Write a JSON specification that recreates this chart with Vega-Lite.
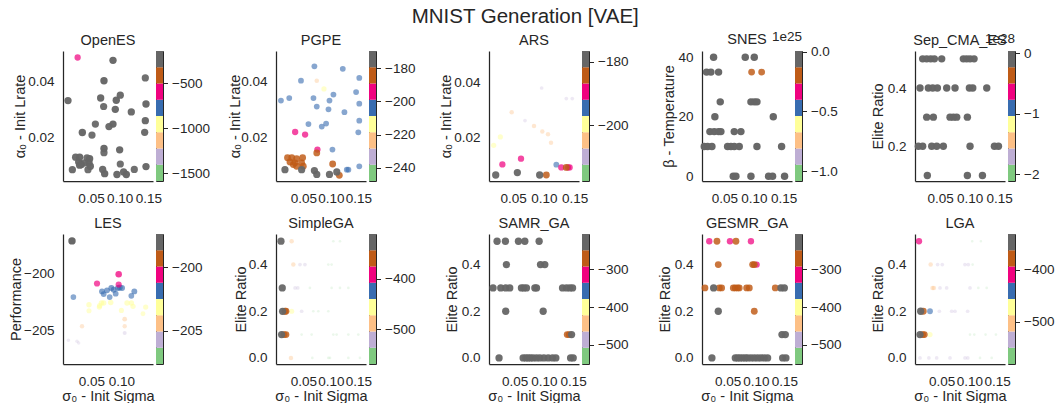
{
"$schema": "https://vega.github.io/schema/vega-lite/v6.json",
"padding": {"left": 8, "top": 7, "right": 0, "bottom": 0},
"title": {"text": "MNIST Generation [VAE]", "fontSize": 20.5, "offset": -14, "anchor": "middle", "baseline": "alphabetic", "dx": -6},
"resolve": {"scale": {"color": "independent", "size": "independent", "opacity": "independent", "x": "independent", "y": "independent"}},
"datasets": {
"pts": [
{"p":"OpenES","s":0.0267,"y":0.0484,"v":-600},
{"p":"OpenES","s":0.0883,"y":0.0474,"v":-200},
{"p":"OpenES","s":0.0099,"y":0.0332,"v":-220},
{"p":"OpenES","s":0.0726,"y":0.0402,"v":-180},
{"p":"OpenES","s":0.1446,"y":0.0412,"v":-250},
{"p":"OpenES","s":0.0668,"y":0.0341,"v":-200},
{"p":"OpenES","s":0.1010,"y":0.0351,"v":-220},
{"p":"OpenES","s":0.0940,"y":0.0333,"v":-180},
{"p":"OpenES","s":0.0720,"y":0.0311,"v":-250},
{"p":"OpenES","s":0.0923,"y":0.0301,"v":-200},
{"p":"OpenES","s":0.1202,"y":0.0292,"v":-220},
{"p":"OpenES","s":0.1458,"y":0.0320,"v":-180},
{"p":"OpenES","s":0.0576,"y":0.0249,"v":-250},
{"p":"OpenES","s":0.0883,"y":0.0249,"v":-200},
{"p":"OpenES","s":0.0813,"y":0.0240,"v":-220},
{"p":"OpenES","s":0.0349,"y":0.0219,"v":-180},
{"p":"OpenES","s":0.0517,"y":0.0210,"v":-250},
{"p":"OpenES","s":0.1446,"y":0.0261,"v":-200},
{"p":"OpenES","s":0.1435,"y":0.0220,"v":-220},
{"p":"OpenES","s":0.0726,"y":0.0163,"v":-180},
{"p":"OpenES","s":0.0726,"y":0.0148,"v":-250},
{"p":"OpenES","s":0.0999,"y":0.0158,"v":-200},
{"p":"OpenES","s":0.0232,"y":0.0132,"v":-220},
{"p":"OpenES","s":0.0302,"y":0.0132,"v":-180},
{"p":"OpenES","s":0.0430,"y":0.0130,"v":-250},
{"p":"OpenES","s":0.0476,"y":0.0127,"v":-200},
{"p":"OpenES","s":0.0285,"y":0.0115,"v":-220},
{"p":"OpenES","s":0.0331,"y":0.0106,"v":-180},
{"p":"OpenES","s":0.0389,"y":0.0112,"v":-250},
{"p":"OpenES","s":0.0465,"y":0.0112,"v":-200},
{"p":"OpenES","s":0.0175,"y":0.0088,"v":-220},
{"p":"OpenES","s":0.0302,"y":0.0104,"v":-180},
{"p":"OpenES","s":0.0447,"y":0.0088,"v":-250},
{"p":"OpenES","s":0.0488,"y":0.0100,"v":-200},
{"p":"OpenES","s":0.0703,"y":0.0089,"v":-220},
{"p":"OpenES","s":0.0738,"y":0.0074,"v":-180},
{"p":"OpenES","s":0.1010,"y":0.0108,"v":-250},
{"p":"OpenES","s":0.0952,"y":0.0071,"v":-200},
{"p":"OpenES","s":0.1068,"y":0.0080,"v":-220},
{"p":"OpenES","s":0.1115,"y":0.0071,"v":-180},
{"p":"OpenES","s":0.1254,"y":0.0089,"v":-250},
{"p":"OpenES","s":0.1458,"y":0.0099,"v":-200},

{"p":"PGPE","s":0.0745,"y":0.0402,"v":-223},
{"p":"PGPE","s":0.0876,"y":0.0373,"v":-213},
{"p":"PGPE","s":0.0702,"y":0.0453,"v":-204},
{"p":"PGPE","s":0.1218,"y":0.0444,"v":-204},
{"p":"PGPE","s":0.0458,"y":0.0402,"v":-204},
{"p":"PGPE","s":0.1518,"y":0.0412,"v":-204},
{"p":"PGPE","s":0.0094,"y":0.0332,"v":-204},
{"p":"PGPE","s":0.0245,"y":0.0341,"v":-204},
{"p":"PGPE","s":0.0685,"y":0.0341,"v":-204},
{"p":"PGPE","s":0.0745,"y":0.0311,"v":-204},
{"p":"PGPE","s":0.0976,"y":0.0332,"v":-204},
{"p":"PGPE","s":0.1048,"y":0.0353,"v":-204},
{"p":"PGPE","s":0.0958,"y":0.0301,"v":-204},
{"p":"PGPE","s":0.1248,"y":0.0291,"v":-204},
{"p":"PGPE","s":0.1460,"y":0.0362,"v":-204},
{"p":"PGPE","s":0.1518,"y":0.0321,"v":-204},
{"p":"PGPE","s":0.1518,"y":0.0261,"v":-204},
{"p":"PGPE","s":0.1500,"y":0.0220,"v":-204},
{"p":"PGPE","s":0.0594,"y":0.0249,"v":-204},
{"p":"PGPE","s":0.0836,"y":0.0240,"v":-204},
{"p":"PGPE","s":0.0915,"y":0.0251,"v":-204},
{"p":"PGPE","s":0.1030,"y":0.0159,"v":-204},
{"p":"PGPE","s":0.1291,"y":0.0088,"v":-204},
{"p":"PGPE","s":0.1320,"y":0.0088,"v":-204},
{"p":"PGPE","s":0.1518,"y":0.0100,"v":-204},
{"p":"PGPE","s":0.0352,"y":0.0221,"v":-194},
{"p":"PGPE","s":0.0533,"y":0.0212,"v":-194},
{"p":"PGPE","s":0.0757,"y":0.0159,"v":-194},
{"p":"PGPE","s":0.0745,"y":0.0147,"v":-184},
{"p":"PGPE","s":0.0213,"y":0.0130,"v":-184},
{"p":"PGPE","s":0.0291,"y":0.0130,"v":-184},
{"p":"PGPE","s":0.0379,"y":0.0127,"v":-184},
{"p":"PGPE","s":0.0488,"y":0.0130,"v":-184},
{"p":"PGPE","s":0.0258,"y":0.0115,"v":-184},
{"p":"PGPE","s":0.0349,"y":0.0112,"v":-184},
{"p":"PGPE","s":0.0470,"y":0.0112,"v":-184},
{"p":"PGPE","s":0.0319,"y":0.0106,"v":-184},
{"p":"PGPE","s":0.0379,"y":0.0100,"v":-184},
{"p":"PGPE","s":0.0500,"y":0.0100,"v":-184},
{"p":"PGPE","s":0.1034,"y":0.0108,"v":-184},
{"p":"PGPE","s":0.1155,"y":0.0068,"v":-184},
{"p":"PGPE","s":0.0167,"y":0.0088,"v":-175},
{"p":"PGPE","s":0.0470,"y":0.0088,"v":-175},
{"p":"PGPE","s":0.0702,"y":0.0085,"v":-175},
{"p":"PGPE","s":0.0745,"y":0.0071,"v":-175},
{"p":"PGPE","s":0.0976,"y":0.0071,"v":-175},
{"p":"PGPE","s":0.1109,"y":0.0080,"v":-175},

{"p":"ARS","s":0.0694,"y":0.0261,"v":-210},
{"p":"ARS","s":0.0964,"y":0.0381,"v":-210},
{"p":"ARS","s":0.1364,"y":0.0342,"v":-210},
{"p":"ARS","s":0.1461,"y":0.0342,"v":-210},
{"p":"ARS","s":0.0478,"y":0.0292,"v":-205},
{"p":"ARS","s":0.0840,"y":0.0241,"v":-205},
{"p":"ARS","s":0.0975,"y":0.0221,"v":-205},
{"p":"ARS","s":0.1067,"y":0.0211,"v":-205},
{"p":"ARS","s":0.1116,"y":0.0180,"v":-205},
{"p":"ARS","s":0.0186,"y":0.0170,"v":-199.5},
{"p":"ARS","s":0.0294,"y":0.0201,"v":-199.5},
{"p":"ARS","s":0.1202,"y":0.0099,"v":-194.5},
{"p":"ARS","s":0.0327,"y":0.0100,"v":-189.5},
{"p":"ARS","s":0.0629,"y":0.0121,"v":-189.5},
{"p":"ARS","s":0.1283,"y":0.0089,"v":-189.5},
{"p":"ARS","s":0.1391,"y":0.0089,"v":-189.5},
{"p":"ARS","s":0.1418,"y":0.0089,"v":-189.5},
{"p":"ARS","s":0.1040,"y":0.0061,"v":-184},
{"p":"ARS","s":0.1364,"y":0.0089,"v":-184},
{"p":"ARS","s":0.0219,"y":0.0061,"v":-179},
{"p":"ARS","s":0.0570,"y":0.0070,"v":-179},
{"p":"ARS","s":0.0932,"y":0.0061,"v":-179},

{"p":"SNES","s":0.0960,"y":35,"v":-0.2},
{"p":"SNES","s":0.1129,"y":35,"v":-0.2},
{"p":"SNES","s":0.0320,"y":40,"v":-0.01},
{"p":"SNES","s":0.0853,"y":40,"v":-0.01},
{"p":"SNES","s":0.1005,"y":40,"v":-0.01},
{"p":"SNES","s":0.0202,"y":35,"v":-0.01},
{"p":"SNES","s":0.0275,"y":35,"v":-0.01},
{"p":"SNES","s":0.0404,"y":35,"v":-0.01},
{"p":"SNES","s":0.0432,"y":25,"v":-0.01},
{"p":"SNES","s":0.0949,"y":25,"v":-0.01},
{"p":"SNES","s":0.1005,"y":25,"v":-0.01},
{"p":"SNES","s":0.1050,"y":25,"v":-0.01},
{"p":"SNES","s":0.0342,"y":20,"v":-0.01},
{"p":"SNES","s":0.1325,"y":20,"v":-0.01},
{"p":"SNES","s":0.0258,"y":15,"v":-0.01},
{"p":"SNES","s":0.0331,"y":15,"v":-0.01},
{"p":"SNES","s":0.0404,"y":15,"v":-0.01},
{"p":"SNES","s":0.0443,"y":15,"v":-0.01},
{"p":"SNES","s":0.0668,"y":15,"v":-0.01},
{"p":"SNES","s":0.0780,"y":15,"v":-0.01},
{"p":"SNES","s":0.0163,"y":10,"v":-0.01},
{"p":"SNES","s":0.0219,"y":10,"v":-0.01},
{"p":"SNES","s":0.0292,"y":10,"v":-0.01},
{"p":"SNES","s":0.0556,"y":10,"v":-0.01},
{"p":"SNES","s":0.0612,"y":10,"v":-0.01},
{"p":"SNES","s":0.0668,"y":10,"v":-0.01},
{"p":"SNES","s":0.0752,"y":10,"v":-0.01},
{"p":"SNES","s":0.1050,"y":10,"v":-0.01},
{"p":"SNES","s":0.1465,"y":10,"v":-0.01},
{"p":"SNES","s":0.0651,"y":0,"v":-0.01},
{"p":"SNES","s":0.0696,"y":0,"v":-0.01},
{"p":"SNES","s":0.0949,"y":0,"v":-0.01},
{"p":"SNES","s":0.1246,"y":0,"v":-0.01},
{"p":"SNES","s":0.1313,"y":0,"v":-0.01},
{"p":"SNES","s":0.1515,"y":0,"v":-0.01},

{"p":"Sep_CMA_ES","s":0.0206,"y":0.5,"v":-0.01},
{"p":"Sep_CMA_ES","s":0.0274,"y":0.5,"v":-0.01},
{"p":"Sep_CMA_ES","s":0.0342,"y":0.5,"v":-0.01},
{"p":"Sep_CMA_ES","s":0.0404,"y":0.5,"v":-0.01},
{"p":"Sep_CMA_ES","s":0.0528,"y":0.5,"v":-0.01},
{"p":"Sep_CMA_ES","s":0.0895,"y":0.5,"v":-0.01},
{"p":"Sep_CMA_ES","s":0.0951,"y":0.5,"v":-0.01},
{"p":"Sep_CMA_ES","s":0.1008,"y":0.5,"v":-0.01},
{"p":"Sep_CMA_ES","s":0.1076,"y":0.5,"v":-0.01},
{"p":"Sep_CMA_ES","s":0.0161,"y":0.4,"v":-0.01},
{"p":"Sep_CMA_ES","s":0.0302,"y":0.4,"v":-0.01},
{"p":"Sep_CMA_ES","s":0.0376,"y":0.4,"v":-0.01},
{"p":"Sep_CMA_ES","s":0.0455,"y":0.4,"v":-0.01},
{"p":"Sep_CMA_ES","s":0.0613,"y":0.4,"v":-0.01},
{"p":"Sep_CMA_ES","s":0.0754,"y":0.4,"v":-0.01},
{"p":"Sep_CMA_ES","s":0.0997,"y":0.4,"v":-0.01},
{"p":"Sep_CMA_ES","s":0.1054,"y":0.4,"v":-0.01},
{"p":"Sep_CMA_ES","s":0.1291,"y":0.4,"v":-0.01},
{"p":"Sep_CMA_ES","s":0.0274,"y":0.3,"v":-0.01},
{"p":"Sep_CMA_ES","s":0.0387,"y":0.3,"v":-0.01},
{"p":"Sep_CMA_ES","s":0.0669,"y":0.3,"v":-0.01},
{"p":"Sep_CMA_ES","s":0.0726,"y":0.3,"v":-0.01},
{"p":"Sep_CMA_ES","s":0.0782,"y":0.3,"v":-0.01},
{"p":"Sep_CMA_ES","s":0.0963,"y":0.3,"v":-0.01},
{"p":"Sep_CMA_ES","s":0.0133,"y":0.2,"v":-0.01},
{"p":"Sep_CMA_ES","s":0.0206,"y":0.2,"v":-0.01},
{"p":"Sep_CMA_ES","s":0.0359,"y":0.2,"v":-0.01},
{"p":"Sep_CMA_ES","s":0.0444,"y":0.2,"v":-0.01},
{"p":"Sep_CMA_ES","s":0.0556,"y":0.2,"v":-0.01},
{"p":"Sep_CMA_ES","s":0.1008,"y":0.2,"v":-0.01},
{"p":"Sep_CMA_ES","s":0.1421,"y":0.2,"v":-0.01},
{"p":"Sep_CMA_ES","s":0.1489,"y":0.2,"v":-0.01},
{"p":"Sep_CMA_ES","s":0.0285,"y":0.1,"v":-0.01},
{"p":"Sep_CMA_ES","s":0.0963,"y":0.1,"v":-0.01},
{"p":"Sep_CMA_ES","s":0.1218,"y":0.1,"v":-0.01},

{"p":"LES","s":0.0117,"y":-205.84,"v":-205.84},
{"p":"LES","s":0.0260,"y":-205.93,"v":-205.93},
{"p":"LES","s":0.0288,"y":-206.07,"v":-206.07},
{"p":"LES","s":0.1055,"y":-205.2,"v":-205.2},
{"p":"LES","s":0.0344,"y":-204.62,"v":-204.62},
{"p":"LES","s":0.1055,"y":-204.0,"v":-204.0},
{"p":"LES","s":0.1055,"y":-204.62,"v":-204.62},
{"p":"LES","s":0.0460,"y":-202.75,"v":-202.75},
{"p":"LES","s":0.0460,"y":-203.27,"v":-203.27},
{"p":"LES","s":0.0667,"y":-202.6,"v":-202.6},
{"p":"LES","s":0.0638,"y":-202.83,"v":-202.83},
{"p":"LES","s":0.0705,"y":-202.6,"v":-202.6},
{"p":"LES","s":0.0822,"y":-202.55,"v":-202.55},
{"p":"LES","s":0.0633,"y":-202.95,"v":-202.95},
{"p":"LES","s":0.1000,"y":-203.24,"v":-203.24},
{"p":"LES","s":0.1094,"y":-202.6,"v":-202.6},
{"p":"LES","s":0.1166,"y":-202.6,"v":-202.6},
{"p":"LES","s":0.1194,"y":-202.89,"v":-202.89},
{"p":"LES","s":0.1405,"y":-202.95,"v":-202.95},
{"p":"LES","s":0.1360,"y":-203.53,"v":-203.53},
{"p":"LES","s":0.0200,"y":-202.08,"v":-202.08},
{"p":"LES","s":0.0677,"y":-201.59,"v":-201.59},
{"p":"LES","s":0.0705,"y":-201.82,"v":-201.82},
{"p":"LES","s":0.0760,"y":-201.5,"v":-201.5},
{"p":"LES","s":0.0833,"y":-201.3,"v":-201.3},
{"p":"LES","s":0.0872,"y":-201.45,"v":-201.45},
{"p":"LES","s":0.0905,"y":-201.79,"v":-201.79},
{"p":"LES","s":0.0944,"y":-201.3,"v":-201.3},
{"p":"LES","s":0.0972,"y":-201.25,"v":-201.25},
{"p":"LES","s":0.1010,"y":-201.3,"v":-201.3},
{"p":"LES","s":0.0805,"y":-202.08,"v":-202.08},
{"p":"LES","s":0.1166,"y":-201.97,"v":-201.97},
{"p":"LES","s":0.1216,"y":-201.59,"v":-201.59},
{"p":"LES","s":0.0955,"y":-200.09,"v":-200.09},
{"p":"LES","s":0.0594,"y":-200.9,"v":-200.9},
{"p":"LES","s":0.0955,"y":-201.0,"v":-201.0},
{"p":"LES","s":0.0177,"y":-197.2,"v":-197.6},

{"p":"SimpleGA","s":0.1046,"y":0.5,"v":-553},
{"p":"SimpleGA","s":0.1167,"y":0.5,"v":-553},
{"p":"SimpleGA","s":0.0955,"y":0.4,"v":-553},
{"p":"SimpleGA","s":0.1015,"y":0.4,"v":-553},
{"p":"SimpleGA","s":0.0620,"y":0.3,"v":-553},
{"p":"SimpleGA","s":0.1015,"y":0.3,"v":-553},
{"p":"SimpleGA","s":0.1167,"y":0.3,"v":-553},
{"p":"SimpleGA","s":0.1319,"y":0.3,"v":-553},
{"p":"SimpleGA","s":0.0682,"y":0.2,"v":-553},
{"p":"SimpleGA","s":0.0773,"y":0.2,"v":-553},
{"p":"SimpleGA","s":0.0955,"y":0.2,"v":-553},
{"p":"SimpleGA","s":0.0470,"y":0.1,"v":-553},
{"p":"SimpleGA","s":0.0652,"y":0.1,"v":-553},
{"p":"SimpleGA","s":0.1046,"y":0.1,"v":-553},
{"p":"SimpleGA","s":0.1106,"y":0.1,"v":-553},
{"p":"SimpleGA","s":0.1319,"y":0.1,"v":-553},
{"p":"SimpleGA","s":0.1500,"y":0.1,"v":-553},
{"p":"SimpleGA","s":0.0664,"y":0.0,"v":-553},
{"p":"SimpleGA","s":0.0955,"y":0.0,"v":-553},
{"p":"SimpleGA","s":0.0985,"y":0.0,"v":-553},
{"p":"SimpleGA","s":0.1319,"y":0.0,"v":-553},
{"p":"SimpleGA","s":0.1530,"y":0.0,"v":-553},
{"p":"SimpleGA","s":0.0440,"y":0.4,"v":-520},
{"p":"SimpleGA","s":0.0530,"y":0.4,"v":-520},
{"p":"SimpleGA","s":0.0350,"y":0.3,"v":-520},
{"p":"SimpleGA","s":0.0400,"y":0.3,"v":-520},
{"p":"SimpleGA","s":0.0470,"y":0.2,"v":-520},
{"p":"SimpleGA","s":0.0288,"y":0.5,"v":-488},
{"p":"SimpleGA","s":0.0319,"y":0.4,"v":-488},
{"p":"SimpleGA","s":0.0276,"y":0.0,"v":-488},
{"p":"SimpleGA","s":0.0288,"y":0.2,"v":-455},
{"p":"SimpleGA","s":0.0167,"y":0.2,"v":-360},
{"p":"SimpleGA","s":0.0185,"y":0.2,"v":-360},
{"p":"SimpleGA","s":0.0149,"y":0.1,"v":-360},
{"p":"SimpleGA","s":0.0185,"y":0.1,"v":-360},
{"p":"SimpleGA","s":0.0095,"y":0.5,"v":-328},
{"p":"SimpleGA","s":0.0118,"y":0.3,"v":-328},
{"p":"SimpleGA","s":0.0124,"y":0.2,"v":-328},
{"p":"SimpleGA","s":0.0106,"y":0.1,"v":-328},

{"p":"SAMR_GA","s":0.1398,"y":0.1,"v":-270},
{"p":"SAMR_GA","s":0.1432,"y":0.1,"v":-270},
{"p":"SAMR_GA","s":0.1473,"y":0.1,"v":-225},
{"p":"SAMR_GA","s":0.0198,"y":0.5,"v":-225},
{"p":"SAMR_GA","s":0.0341,"y":0.5,"v":-225},
{"p":"SAMR_GA","s":0.0564,"y":0.5,"v":-225},
{"p":"SAMR_GA","s":0.0673,"y":0.5,"v":-225},
{"p":"SAMR_GA","s":0.0918,"y":0.5,"v":-225},
{"p":"SAMR_GA","s":0.0358,"y":0.4,"v":-225},
{"p":"SAMR_GA","s":0.0941,"y":0.4,"v":-225},
{"p":"SAMR_GA","s":0.1015,"y":0.4,"v":-225},
{"p":"SAMR_GA","s":0.0129,"y":0.3,"v":-225},
{"p":"SAMR_GA","s":0.0261,"y":0.3,"v":-225},
{"p":"SAMR_GA","s":0.0346,"y":0.3,"v":-225},
{"p":"SAMR_GA","s":0.0415,"y":0.3,"v":-225},
{"p":"SAMR_GA","s":0.0615,"y":0.3,"v":-225},
{"p":"SAMR_GA","s":0.0655,"y":0.3,"v":-225},
{"p":"SAMR_GA","s":0.0701,"y":0.3,"v":-225},
{"p":"SAMR_GA","s":0.0844,"y":0.3,"v":-225},
{"p":"SAMR_GA","s":0.0873,"y":0.3,"v":-225},
{"p":"SAMR_GA","s":0.1318,"y":0.3,"v":-225},
{"p":"SAMR_GA","s":0.1387,"y":0.3,"v":-225},
{"p":"SAMR_GA","s":0.1444,"y":0.3,"v":-225},
{"p":"SAMR_GA","s":0.1490,"y":0.3,"v":-225},
{"p":"SAMR_GA","s":0.0346,"y":0.2,"v":-225},
{"p":"SAMR_GA","s":0.0987,"y":0.2,"v":-225},
{"p":"SAMR_GA","s":0.0232,"y":0.0,"v":-225},
{"p":"SAMR_GA","s":0.0644,"y":0.0,"v":-225},
{"p":"SAMR_GA","s":0.0690,"y":0.0,"v":-225},
{"p":"SAMR_GA","s":0.0730,"y":0.0,"v":-225},
{"p":"SAMR_GA","s":0.0770,"y":0.0,"v":-225},
{"p":"SAMR_GA","s":0.0815,"y":0.0,"v":-225},
{"p":"SAMR_GA","s":0.0873,"y":0.0,"v":-225},
{"p":"SAMR_GA","s":0.0930,"y":0.0,"v":-225},
{"p":"SAMR_GA","s":0.0999,"y":0.0,"v":-225},
{"p":"SAMR_GA","s":0.1073,"y":0.0,"v":-225},
{"p":"SAMR_GA","s":0.1147,"y":0.0,"v":-225},
{"p":"SAMR_GA","s":0.1204,"y":0.0,"v":-225},
{"p":"SAMR_GA","s":0.1456,"y":0.0,"v":-225},
{"p":"SAMR_GA","s":0.1501,"y":0.0,"v":-225},

{"p":"GESMR_GA","s":0.0176,"y":0.5,"v":-310},
{"p":"GESMR_GA","s":0.0541,"y":0.5,"v":-310},
{"p":"GESMR_GA","s":0.0911,"y":0.5,"v":-310},
{"p":"GESMR_GA","s":0.1011,"y":0.4,"v":-310},
{"p":"GESMR_GA","s":0.0312,"y":0.5,"v":-270},
{"p":"GESMR_GA","s":0.0647,"y":0.5,"v":-270},
{"p":"GESMR_GA","s":0.0335,"y":0.4,"v":-270},
{"p":"GESMR_GA","s":0.0941,"y":0.4,"v":-270},
{"p":"GESMR_GA","s":0.0970,"y":0.4,"v":-270},
{"p":"GESMR_GA","s":0.0100,"y":0.3,"v":-270},
{"p":"GESMR_GA","s":0.0353,"y":0.3,"v":-270},
{"p":"GESMR_GA","s":0.0394,"y":0.3,"v":-270},
{"p":"GESMR_GA","s":0.0600,"y":0.3,"v":-270},
{"p":"GESMR_GA","s":0.0635,"y":0.3,"v":-270},
{"p":"GESMR_GA","s":0.0676,"y":0.3,"v":-270},
{"p":"GESMR_GA","s":0.0705,"y":0.3,"v":-270},
{"p":"GESMR_GA","s":0.0835,"y":0.3,"v":-270},
{"p":"GESMR_GA","s":0.0882,"y":0.3,"v":-270},
{"p":"GESMR_GA","s":0.1340,"y":0.3,"v":-270},
{"p":"GESMR_GA","s":0.0970,"y":0.2,"v":-270},
{"p":"GESMR_GA","s":0.0253,"y":0.3,"v":-225},
{"p":"GESMR_GA","s":0.1440,"y":0.3,"v":-225},
{"p":"GESMR_GA","s":0.1500,"y":0.3,"v":-225},
{"p":"GESMR_GA","s":0.0335,"y":0.2,"v":-225},
{"p":"GESMR_GA","s":0.1458,"y":0.1,"v":-225},
{"p":"GESMR_GA","s":0.1517,"y":0.1,"v":-225},
{"p":"GESMR_GA","s":0.0223,"y":0.0,"v":-225},
{"p":"GESMR_GA","s":0.0635,"y":0.0,"v":-225},
{"p":"GESMR_GA","s":0.0676,"y":0.0,"v":-225},
{"p":"GESMR_GA","s":0.0717,"y":0.0,"v":-225},
{"p":"GESMR_GA","s":0.0764,"y":0.0,"v":-225},
{"p":"GESMR_GA","s":0.0811,"y":0.0,"v":-225},
{"p":"GESMR_GA","s":0.0852,"y":0.0,"v":-225},
{"p":"GESMR_GA","s":0.0911,"y":0.0,"v":-225},
{"p":"GESMR_GA","s":0.0970,"y":0.0,"v":-225},
{"p":"GESMR_GA","s":0.1029,"y":0.0,"v":-225},
{"p":"GESMR_GA","s":0.1088,"y":0.0,"v":-225},
{"p":"GESMR_GA","s":0.1146,"y":0.0,"v":-225},
{"p":"GESMR_GA","s":0.1205,"y":0.0,"v":-225},
{"p":"GESMR_GA","s":0.1470,"y":0.0,"v":-225},
{"p":"GESMR_GA","s":0.1528,"y":0.0,"v":-225},

{"p":"LGA","s":0.1050,"y":0.5,"v":-565},
{"p":"LGA","s":0.1206,"y":0.5,"v":-565},
{"p":"LGA","s":0.1057,"y":0.4,"v":-565},
{"p":"LGA","s":0.1160,"y":0.3,"v":-565},
{"p":"LGA","s":0.1310,"y":0.3,"v":-565},
{"p":"LGA","s":0.1010,"y":0.1,"v":-565},
{"p":"LGA","s":0.1087,"y":0.1,"v":-565},
{"p":"LGA","s":0.1290,"y":0.1,"v":-565},
{"p":"LGA","s":0.1477,"y":0.1,"v":-565},
{"p":"LGA","s":0.1190,"y":0.0,"v":-565},
{"p":"LGA","s":0.1400,"y":0.0,"v":-565},
{"p":"LGA","s":0.0427,"y":0.4,"v":-534},
{"p":"LGA","s":0.0511,"y":0.4,"v":-534},
{"p":"LGA","s":0.0919,"y":0.4,"v":-534},
{"p":"LGA","s":0.0979,"y":0.4,"v":-534},
{"p":"LGA","s":0.0470,"y":0.3,"v":-534},
{"p":"LGA","s":0.0590,"y":0.3,"v":-534},
{"p":"LGA","s":0.1010,"y":0.3,"v":-534},
{"p":"LGA","s":0.0458,"y":0.2,"v":-534},
{"p":"LGA","s":0.0680,"y":0.2,"v":-534},
{"p":"LGA","s":0.0740,"y":0.2,"v":-534},
{"p":"LGA","s":0.0967,"y":0.2,"v":-534},
{"p":"LGA","s":0.0110,"y":0.0,"v":-534},
{"p":"LGA","s":0.0270,"y":0.0,"v":-534},
{"p":"LGA","s":0.0410,"y":0.0,"v":-534},
{"p":"LGA","s":0.0650,"y":0.0,"v":-534},
{"p":"LGA","s":0.0920,"y":0.0,"v":-534},
{"p":"LGA","s":0.0970,"y":0.0,"v":-534},
{"p":"LGA","s":0.0302,"y":0.4,"v":-503},
{"p":"LGA","s":0.0335,"y":0.3,"v":-503},
{"p":"LGA","s":0.0360,"y":0.3,"v":-503},
{"p":"LGA","s":0.0290,"y":0.1,"v":-470},
{"p":"LGA","s":0.0290,"y":0.2,"v":-440},
{"p":"LGA","s":0.0092,"y":0.5,"v":-409},
{"p":"LGA","s":0.0170,"y":0.2,"v":-378},
{"p":"LGA","s":0.0158,"y":0.1,"v":-378},
{"p":"LGA","s":0.0188,"y":0.1,"v":-378},
{"p":"LGA","s":0.0122,"y":0.2,"v":-345},
{"p":"LGA","s":0.0110,"y":0.1,"v":-345}
],
"cb": [
{"p":"OpenES","b":0,"lo":-1584,"hi":-1404},{"p":"OpenES","b":1,"lo":-1404,"hi":-1224},{"p":"OpenES","b":2,"lo":-1224,"hi":-1044},{"p":"OpenES","b":3,"lo":-1044,"hi":-864},{"p":"OpenES","b":4,"lo":-864,"hi":-684},{"p":"OpenES","b":5,"lo":-684,"hi":-504},{"p":"OpenES","b":6,"lo":-504,"hi":-324},{"p":"OpenES","b":7,"lo":-324,"hi":-144},
{"p":"PGPE","b":0,"lo":-248,"hi":-238.2},{"p":"PGPE","b":1,"lo":-238.2,"hi":-228.4},{"p":"PGPE","b":2,"lo":-228.4,"hi":-218.6},{"p":"PGPE","b":3,"lo":-218.6,"hi":-208.8},{"p":"PGPE","b":4,"lo":-208.8,"hi":-199},{"p":"PGPE","b":5,"lo":-199,"hi":-189.2},{"p":"PGPE","b":6,"lo":-189.2,"hi":-179.4},{"p":"PGPE","b":7,"lo":-179.4,"hi":-169.6},
{"p":"ARS","b":0,"lo":-217.5,"hi":-212.4},{"p":"ARS","b":1,"lo":-212.4,"hi":-207.3},{"p":"ARS","b":2,"lo":-207.3,"hi":-202.2},{"p":"ARS","b":3,"lo":-202.2,"hi":-197.1},{"p":"ARS","b":4,"lo":-197.1,"hi":-192},{"p":"ARS","b":5,"lo":-192,"hi":-186.9},{"p":"ARS","b":6,"lo":-186.9,"hi":-181.8},{"p":"ARS","b":7,"lo":-181.8,"hi":-176.7},
{"p":"SNES","b":0,"lo":-1.083,"hi":-0.947},{"p":"SNES","b":1,"lo":-0.947,"hi":-0.811},{"p":"SNES","b":2,"lo":-0.811,"hi":-0.675},{"p":"SNES","b":3,"lo":-0.675,"hi":-0.539},{"p":"SNES","b":4,"lo":-0.539,"hi":-0.403},{"p":"SNES","b":5,"lo":-0.403,"hi":-0.267},{"p":"SNES","b":6,"lo":-0.267,"hi":-0.131},{"p":"SNES","b":7,"lo":-0.131,"hi":0.005},
{"p":"Sep_CMA_ES","b":0,"lo":-2.108,"hi":-1.84},{"p":"Sep_CMA_ES","b":1,"lo":-1.84,"hi":-1.571},{"p":"Sep_CMA_ES","b":2,"lo":-1.571,"hi":-1.303},{"p":"Sep_CMA_ES","b":3,"lo":-1.303,"hi":-1.035},{"p":"Sep_CMA_ES","b":4,"lo":-1.035,"hi":-0.767},{"p":"Sep_CMA_ES","b":5,"lo":-0.767,"hi":-0.498},{"p":"Sep_CMA_ES","b":6,"lo":-0.498,"hi":-0.23},{"p":"Sep_CMA_ES","b":7,"lo":-0.23,"hi":0.038},
{"p":"LES","b":0,"lo":-207.6,"hi":-206.325},{"p":"LES","b":1,"lo":-206.325,"hi":-205.05},{"p":"LES","b":2,"lo":-205.05,"hi":-203.775},{"p":"LES","b":3,"lo":-203.775,"hi":-202.5},{"p":"LES","b":4,"lo":-202.5,"hi":-201.225},{"p":"LES","b":5,"lo":-201.225,"hi":-199.95},{"p":"LES","b":6,"lo":-199.95,"hi":-198.675},{"p":"LES","b":7,"lo":-198.675,"hi":-197.4},
{"p":"SimpleGA","b":0,"lo":-569.4,"hi":-537.15},{"p":"SimpleGA","b":1,"lo":-537.15,"hi":-504.9},{"p":"SimpleGA","b":2,"lo":-504.9,"hi":-472.65},{"p":"SimpleGA","b":3,"lo":-472.65,"hi":-440.4},{"p":"SimpleGA","b":4,"lo":-440.4,"hi":-408.15},{"p":"SimpleGA","b":5,"lo":-408.15,"hi":-375.9},{"p":"SimpleGA","b":6,"lo":-375.9,"hi":-343.65},{"p":"SimpleGA","b":7,"lo":-343.65,"hi":-311.4},
{"p":"SAMR_GA","b":0,"lo":-550.7,"hi":-507.7},{"p":"SAMR_GA","b":1,"lo":-507.7,"hi":-464.7},{"p":"SAMR_GA","b":2,"lo":-464.7,"hi":-421.7},{"p":"SAMR_GA","b":3,"lo":-421.7,"hi":-378.7},{"p":"SAMR_GA","b":4,"lo":-378.7,"hi":-335.7},{"p":"SAMR_GA","b":5,"lo":-335.7,"hi":-292.7},{"p":"SAMR_GA","b":6,"lo":-292.7,"hi":-249.7},{"p":"SAMR_GA","b":7,"lo":-249.7,"hi":-206.7},
{"p":"GESMR_GA","b":0,"lo":-550.7,"hi":-507.7},{"p":"GESMR_GA","b":1,"lo":-507.7,"hi":-464.7},{"p":"GESMR_GA","b":2,"lo":-464.7,"hi":-421.7},{"p":"GESMR_GA","b":3,"lo":-421.7,"hi":-378.7},{"p":"GESMR_GA","b":4,"lo":-378.7,"hi":-335.7},{"p":"GESMR_GA","b":5,"lo":-335.7,"hi":-292.7},{"p":"GESMR_GA","b":6,"lo":-292.7,"hi":-249.7},{"p":"GESMR_GA","b":7,"lo":-249.7,"hi":-206.7},
{"p":"LGA","b":0,"lo":-580.7,"hi":-549.5},{"p":"LGA","b":1,"lo":-549.5,"hi":-518.3},{"p":"LGA","b":2,"lo":-518.3,"hi":-487.1},{"p":"LGA","b":3,"lo":-487.1,"hi":-455.9},{"p":"LGA","b":4,"lo":-455.9,"hi":-424.8},{"p":"LGA","b":5,"lo":-424.8,"hi":-393.6},{"p":"LGA","b":6,"lo":-393.6,"hi":-362.4},{"p":"LGA","b":7,"lo":-362.4,"hi":-331.2}
]
},
"columns": 14,
"spacing": {"row": 53, "column": 3},
"bounds": "flush",
"concat": [
  {"width": 90, "height": 130, "title": "OpenES", "data": {"name": "pts"}, "transform": [{"filter": "datum.p === 'OpenES'"}], "mark": {"type": "circle"},
   "encoding": {
    "x": {"field": "s", "type": "quantitative", "scale": {"domain": [0.0012, 0.158], "nice": false, "zero": false}, "axis": {"values": [0.05, 0.1, 0.15], "format": ".2f", "title": null}},
    "y": {"field": "y", "type": "quantitative", "scale": {"domain": [0.0048, 0.0507], "nice": false, "zero": false}, "axis": {"values": [0.02, 0.04], "format": ".2f", "title": "α₀ - Init Lrate", "minExtent": 36, "maxExtent": 36}},
    "color": {"field": "v", "type": "quantitative", "scale": {"type": "quantize", "domain": [-1584, -144], "range": ["#7fc97f","#beaed4","#fdc086","#ffff99","#386cb0","#f0027f","#bf5b17","#666666"]}, "legend": null},
    "size": {"field": "v", "type": "quantitative", "scale": {"domain": [-1584, -144], "range": [4, 56], "clamp": true}, "legend": null},
    "opacity": {"field": "v", "type": "quantitative", "scale": {"domain": [-1584, -144], "range": [0.1, 1], "clamp": true}, "legend": null}}},
  {"width": 7, "height": 130, "view": {"stroke": "#262626", "strokeWidth": 1}, "data": {"name": "cb"}, "transform": [{"filter": "datum.p === 'OpenES'"}], "mark": {"type": "rect"},
   "encoding": {
    "x": {"datum": 0, "type": "quantitative", "scale": {"domain": [0, 1]}, "axis": null}, "x2": {"datum": 1},
    "y": {"field": "lo", "type": "quantitative", "scale": {"domain": [-1584, -144], "nice": false, "zero": false}, "axis": {"orient": "right", "values": [-500, -1000, -1500], "format": "d", "title": null, "domain": false, "ticks": true, "tickSize": 4.5, "labelPadding": 4}},
    "y2": {"field": "hi"},
    "color": {"field": "b", "type": "ordinal", "scale": {"domain": [0,1,2,3,4,5,6,7], "range": ["#7fc97f","#beaed4","#fdc086","#ffff99","#386cb0","#f0027f","#bf5b17","#666666"]}, "legend": null}}},
  {"width": 106.9, "height": 130, "data": {"values": []}, "mark": {"type": "point"}},
  {"width": 90, "height": 130, "title": "PGPE", "data": {"name": "pts"}, "transform": [{"filter": "datum.p === 'PGPE'"}], "mark": {"type": "circle"},
   "encoding": {
    "x": {"field": "s", "type": "quantitative", "scale": {"domain": [0.0004, 0.164], "nice": false, "zero": false}, "axis": {"values": [0.05, 0.1, 0.15], "format": ".2f", "title": null}},
    "y": {"field": "y", "type": "quantitative", "scale": {"domain": [0.0048, 0.0507], "nice": false, "zero": false}, "axis": {"values": [0.02, 0.04], "format": ".2f", "title": "α₀ - Init Lrate", "minExtent": 34, "maxExtent": 34}},
    "color": {"field": "v", "type": "quantitative", "scale": {"type": "quantize", "domain": [-248, -169.6], "range": ["#7fc97f","#beaed4","#fdc086","#ffff99","#386cb0","#f0027f","#bf5b17","#666666"]}, "legend": null},
    "size": {"field": "v", "type": "quantitative", "scale": {"domain": [-248, -169.6], "range": [4, 56], "clamp": true}, "legend": null},
    "opacity": {"field": "v", "type": "quantitative", "scale": {"domain": [-248, -169.6], "range": [0.1, 1], "clamp": true}, "legend": null}}},
  {"width": 7, "height": 130, "view": {"stroke": "#262626", "strokeWidth": 1}, "data": {"name": "cb"}, "transform": [{"filter": "datum.p === 'PGPE'"}], "mark": {"type": "rect"},
   "encoding": {
    "x": {"datum": 0, "type": "quantitative", "scale": {"domain": [0, 1]}, "axis": null}, "x2": {"datum": 1},
    "y": {"field": "lo", "type": "quantitative", "scale": {"domain": [-248, -169.6], "nice": false, "zero": false}, "axis": {"orient": "right", "values": [-180, -200, -220, -240], "format": "d", "title": null, "domain": false, "ticks": true, "tickSize": 4.5, "labelPadding": 4}},
    "y2": {"field": "hi"},
    "color": {"field": "b", "type": "ordinal", "scale": {"domain": [0,1,2,3,4,5,6,7], "range": ["#7fc97f","#beaed4","#fdc086","#ffff99","#386cb0","#f0027f","#bf5b17","#666666"]}, "legend": null}}},
  {"width": 106.9, "height": 130, "data": {"values": []}, "mark": {"type": "point"}},
  {"width": 90, "height": 130, "title": "ARS", "data": {"name": "pts"}, "transform": [{"filter": "datum.p === 'ARS'"}], "mark": {"type": "circle"},
   "encoding": {
    "x": {"field": "s", "type": "quantitative", "scale": {"domain": [0.011, 0.157], "nice": false, "zero": false}, "axis": {"values": [0.05, 0.1, 0.15], "format": ".2f", "title": null}},
    "y": {"field": "y", "type": "quantitative", "scale": {"domain": [0.0039, 0.0517], "nice": false, "zero": false}, "axis": {"values": [0.02, 0.04], "format": ".2f", "title": "α₀ - Init Lrate", "minExtent": 36, "maxExtent": 36}},
    "color": {"field": "v", "type": "quantitative", "scale": {"type": "quantize", "domain": [-217.5, -176.7], "range": ["#7fc97f","#beaed4","#fdc086","#ffff99","#386cb0","#f0027f","#bf5b17","#666666"]}, "legend": null},
    "size": {"field": "v", "type": "quantitative", "scale": {"domain": [-217.5, -176.7], "range": [4, 56], "clamp": true}, "legend": null},
    "opacity": {"field": "v", "type": "quantitative", "scale": {"domain": [-217.5, -176.7], "range": [0.1, 1], "clamp": true}, "legend": null}}},
  {"width": 7, "height": 130, "view": {"stroke": "#262626", "strokeWidth": 1}, "data": {"name": "cb"}, "transform": [{"filter": "datum.p === 'ARS'"}], "mark": {"type": "rect"},
   "encoding": {
    "x": {"datum": 0, "type": "quantitative", "scale": {"domain": [0, 1]}, "axis": null}, "x2": {"datum": 1},
    "y": {"field": "lo", "type": "quantitative", "scale": {"domain": [-217.5, -176.7], "nice": false, "zero": false}, "axis": {"orient": "right", "values": [-180, -200], "format": "d", "title": null, "domain": false, "ticks": true, "tickSize": 4.5, "labelPadding": 4}},
    "y2": {"field": "hi"},
    "color": {"field": "b", "type": "ordinal", "scale": {"domain": [0,1,2,3,4,5,6,7], "range": ["#7fc97f","#beaed4","#fdc086","#ffff99","#386cb0","#f0027f","#bf5b17","#666666"]}, "legend": null}}},
  {"width": 106.9, "height": 130, "data": {"values": []}, "mark": {"type": "point"}},
  {"width": 90, "height": 130, "title": "SNES", "data": {"name": "pts"}, "transform": [{"filter": "datum.p === 'SNES'"}], "mark": {"type": "circle"},
   "encoding": {
    "x": {"field": "s", "type": "quantitative", "scale": {"domain": [0.0125, 0.164], "nice": false, "zero": false}, "axis": {"values": [0.05, 0.1, 0.15], "format": ".2f", "title": null}},
    "y": {"field": "y", "type": "quantitative", "scale": {"domain": [-1.6, 42.1], "nice": false, "zero": false}, "axis": {"values": [0, 20, 40], "format": "d", "title": "β - Temperature", "minExtent": 26, "maxExtent": 26}},
    "color": {"field": "v", "type": "quantitative", "scale": {"type": "quantize", "domain": [-1.083, 0.005], "range": ["#7fc97f","#beaed4","#fdc086","#ffff99","#386cb0","#f0027f","#bf5b17","#666666"]}, "legend": null},
    "size": {"field": "v", "type": "quantitative", "scale": {"domain": [-1.083, 0.005], "range": [4, 56], "clamp": true}, "legend": null},
    "opacity": {"field": "v", "type": "quantitative", "scale": {"domain": [-1.083, 0.005], "range": [0.1, 1], "clamp": true}, "legend": null}}},
  {"width": 7, "height": 130, "title": {"text": "1e25", "anchor": "end", "frame": "group", "fontSize": 13.5, "offset": 1}, "view": {"stroke": "#262626", "strokeWidth": 1}, "data": {"name": "cb"}, "transform": [{"filter": "datum.p === 'SNES'"}], "mark": {"type": "rect"},
   "encoding": {
    "x": {"datum": 0, "type": "quantitative", "scale": {"domain": [0, 1]}, "axis": null}, "x2": {"datum": 1},
    "y": {"field": "lo", "type": "quantitative", "scale": {"domain": [-1.083, 0.005], "nice": false, "zero": false}, "axis": {"orient": "right", "values": [0, -0.5, -1], "format": ".1f", "title": null, "domain": false, "ticks": true, "tickSize": 4.5, "labelPadding": 4}},
    "y2": {"field": "hi"},
    "color": {"field": "b", "type": "ordinal", "scale": {"domain": [0,1,2,3,4,5,6,7], "range": ["#7fc97f","#beaed4","#fdc086","#ffff99","#386cb0","#f0027f","#bf5b17","#666666"]}, "legend": null}}},
  {"width": 106.9, "height": 130, "data": {"values": []}, "mark": {"type": "point"}},
  {"width": 90, "height": 130, "title": "Sep_CMA_ES", "data": {"name": "pts"}, "transform": [{"filter": "datum.p === 'Sep_CMA_ES'"}], "mark": {"type": "circle"},
   "encoding": {
    "x": {"field": "s", "type": "quantitative", "scale": {"domain": [0.0076, 0.160], "nice": false, "zero": false}, "axis": {"values": [0.05, 0.1, 0.15], "format": ".2f", "title": null}},
    "y": {"field": "y", "type": "quantitative", "scale": {"domain": [0.081, 0.527], "nice": false, "zero": false}, "axis": {"values": [0.2, 0.4], "format": ".1f", "title": "Elite Ratio", "minExtent": 30, "maxExtent": 30}},
    "color": {"field": "v", "type": "quantitative", "scale": {"type": "quantize", "domain": [-2.108, 0.038], "range": ["#7fc97f","#beaed4","#fdc086","#ffff99","#386cb0","#f0027f","#bf5b17","#666666"]}, "legend": null},
    "size": {"field": "v", "type": "quantitative", "scale": {"domain": [-2.108, 0.038], "range": [4, 56], "clamp": true}, "legend": null},
    "opacity": {"field": "v", "type": "quantitative", "scale": {"domain": [-2.108, 0.038], "range": [0.1, 1], "clamp": true}, "legend": null}}},
  {"width": 7, "height": 130, "title": {"text": "1e28", "anchor": "end", "frame": "group", "fontSize": 13.5, "offset": 1}, "view": {"stroke": "#262626", "strokeWidth": 1}, "data": {"name": "cb"}, "transform": [{"filter": "datum.p === 'Sep_CMA_ES'"}], "mark": {"type": "rect"},
   "encoding": {
    "x": {"datum": 0, "type": "quantitative", "scale": {"domain": [0, 1]}, "axis": null}, "x2": {"datum": 1},
    "y": {"field": "lo", "type": "quantitative", "scale": {"domain": [-2.108, 0.038], "nice": false, "zero": false}, "axis": {"orient": "right", "values": [0, -1, -2], "format": "d", "title": null, "domain": false, "ticks": true, "tickSize": 4.5, "labelPadding": 4}},
    "y2": {"field": "hi"},
    "color": {"field": "b", "type": "ordinal", "scale": {"domain": [0,1,2,3,4,5,6,7], "range": ["#7fc97f","#beaed4","#fdc086","#ffff99","#386cb0","#f0027f","#bf5b17","#666666"]}, "legend": null}}},

  {"width": 90, "height": 130, "title": "LES", "data": {"name": "pts"}, "transform": [{"filter": "datum.p === 'LES'"}], "mark": {"type": "circle"},
   "encoding": {
    "x": {"field": "s", "type": "quantitative", "scale": {"domain": [0.0027, 0.1527], "nice": false, "zero": false}, "axis": {"values": [0.05, 0.1], "format": ".2f", "title": "σ₀ - Init Sigma"}},
    "y": {"field": "y", "type": "quantitative", "scale": {"domain": [-207.9, -196.6], "nice": false, "zero": false}, "axis": {"values": [-200, -205], "format": "d", "title": "Performance", "minExtent": 40, "maxExtent": 40}},
    "color": {"field": "v", "type": "quantitative", "scale": {"type": "quantize", "domain": [-207.6, -197.4], "range": ["#7fc97f","#beaed4","#fdc086","#ffff99","#386cb0","#f0027f","#bf5b17","#666666"]}, "legend": null},
    "size": {"field": "v", "type": "quantitative", "scale": {"domain": [-207.6, -197.4], "range": [4, 56], "clamp": true}, "legend": null},
    "opacity": {"field": "v", "type": "quantitative", "scale": {"domain": [-207.6, -197.4], "range": [0.1, 1], "clamp": true}, "legend": null}}},
  {"width": 7, "height": 130, "view": {"stroke": "#262626", "strokeWidth": 1}, "data": {"name": "cb"}, "transform": [{"filter": "datum.p === 'LES'"}], "mark": {"type": "rect"},
   "encoding": {
    "x": {"datum": 0, "type": "quantitative", "scale": {"domain": [0, 1]}, "axis": null}, "x2": {"datum": 1},
    "y": {"field": "lo", "type": "quantitative", "scale": {"domain": [-207.6, -197.4], "nice": false, "zero": false}, "axis": {"orient": "right", "values": [-200, -205], "format": "d", "title": null, "domain": false, "ticks": true, "tickSize": 4.5, "labelPadding": 4}},
    "y2": {"field": "hi"},
    "color": {"field": "b", "type": "ordinal", "scale": {"domain": [0,1,2,3,4,5,6,7], "range": ["#7fc97f","#beaed4","#fdc086","#ffff99","#386cb0","#f0027f","#bf5b17","#666666"]}, "legend": null}}},
  {"width": 106.9, "height": 130, "data": {"values": []}, "mark": {"type": "point"}},
  {"width": 90, "height": 130, "title": "SimpleGA", "data": {"name": "pts"}, "transform": [{"filter": "datum.p === 'SimpleGA'"}], "mark": {"type": "circle"},
   "encoding": {
    "x": {"field": "s", "type": "quantitative", "scale": {"domain": [0.0004, 0.164], "nice": false, "zero": false}, "axis": {"values": [0.05, 0.1, 0.15], "format": ".2f", "title": "σ₀ - Init Sigma"}},
    "y": {"field": "y", "type": "quantitative", "scale": {"domain": [-0.026, 0.531], "nice": false, "zero": false}, "axis": {"values": [0, 0.2, 0.4], "format": ".1f", "title": "Elite Ratio", "minExtent": 28, "maxExtent": 28}},
    "color": {"field": "v", "type": "quantitative", "scale": {"type": "quantize", "domain": [-569.4, -311.4], "range": ["#7fc97f","#beaed4","#fdc086","#ffff99","#386cb0","#f0027f","#bf5b17","#666666"]}, "legend": null},
    "size": {"field": "v", "type": "quantitative", "scale": {"domain": [-569.4, -311.4], "range": [4, 56], "clamp": true}, "legend": null},
    "opacity": {"field": "v", "type": "quantitative", "scale": {"domain": [-569.4, -311.4], "range": [0.1, 1], "clamp": true}, "legend": null}}},
  {"width": 7, "height": 130, "view": {"stroke": "#262626", "strokeWidth": 1}, "data": {"name": "cb"}, "transform": [{"filter": "datum.p === 'SimpleGA'"}], "mark": {"type": "rect"},
   "encoding": {
    "x": {"datum": 0, "type": "quantitative", "scale": {"domain": [0, 1]}, "axis": null}, "x2": {"datum": 1},
    "y": {"field": "lo", "type": "quantitative", "scale": {"domain": [-569.4, -311.4], "nice": false, "zero": false}, "axis": {"orient": "right", "values": [-400, -500], "format": "d", "title": null, "domain": false, "ticks": true, "tickSize": 4.5, "labelPadding": 4}},
    "y2": {"field": "hi"},
    "color": {"field": "b", "type": "ordinal", "scale": {"domain": [0,1,2,3,4,5,6,7], "range": ["#7fc97f","#beaed4","#fdc086","#ffff99","#386cb0","#f0027f","#bf5b17","#666666"]}, "legend": null}}},
  {"width": 106.9, "height": 130, "data": {"values": []}, "mark": {"type": "point"}},
  {"width": 90, "height": 130, "title": "SAMR_GA", "data": {"name": "pts"}, "transform": [{"filter": "datum.p === 'SAMR_GA'"}], "mark": {"type": "circle"},
   "encoding": {
    "x": {"field": "s", "type": "quantitative", "scale": {"domain": [0.006, 0.16], "nice": false, "zero": false}, "axis": {"values": [0.05, 0.1, 0.15], "format": ".2f", "title": "σ₀ - Init Sigma"}},
    "y": {"field": "y", "type": "quantitative", "scale": {"domain": [-0.026, 0.531], "nice": false, "zero": false}, "axis": {"values": [0, 0.2, 0.4], "format": ".1f", "title": "Elite Ratio", "minExtent": 30, "maxExtent": 30}},
    "color": {"field": "v", "type": "quantitative", "scale": {"type": "quantize", "domain": [-550.7, -206.7], "range": ["#7fc97f","#beaed4","#fdc086","#ffff99","#386cb0","#f0027f","#bf5b17","#666666"]}, "legend": null},
    "size": {"field": "v", "type": "quantitative", "scale": {"domain": [-550.7, -206.7], "range": [4, 56], "clamp": true}, "legend": null},
    "opacity": {"field": "v", "type": "quantitative", "scale": {"domain": [-550.7, -206.7], "range": [0.1, 1], "clamp": true}, "legend": null}}},
  {"width": 7, "height": 130, "view": {"stroke": "#262626", "strokeWidth": 1}, "data": {"name": "cb"}, "transform": [{"filter": "datum.p === 'SAMR_GA'"}], "mark": {"type": "rect"},
   "encoding": {
    "x": {"datum": 0, "type": "quantitative", "scale": {"domain": [0, 1]}, "axis": null}, "x2": {"datum": 1},
    "y": {"field": "lo", "type": "quantitative", "scale": {"domain": [-550.7, -206.7], "nice": false, "zero": false}, "axis": {"orient": "right", "values": [-300, -400, -500], "format": "d", "title": null, "domain": false, "ticks": true, "tickSize": 4.5, "labelPadding": 4}},
    "y2": {"field": "hi"},
    "color": {"field": "b", "type": "ordinal", "scale": {"domain": [0,1,2,3,4,5,6,7], "range": ["#7fc97f","#beaed4","#fdc086","#ffff99","#386cb0","#f0027f","#bf5b17","#666666"]}, "legend": null}}},
  {"width": 106.9, "height": 130, "data": {"values": []}, "mark": {"type": "point"}},
  {"width": 90, "height": 130, "title": "GESMR_GA", "data": {"name": "pts"}, "transform": [{"filter": "datum.p === 'GESMR_GA'"}], "mark": {"type": "circle"},
   "encoding": {
    "x": {"field": "s", "type": "quantitative", "scale": {"domain": [0.0048, 0.1635], "nice": false, "zero": false}, "axis": {"values": [0.05, 0.1, 0.15], "format": ".2f", "title": "σ₀ - Init Sigma"}},
    "y": {"field": "y", "type": "quantitative", "scale": {"domain": [-0.026, 0.531], "nice": false, "zero": false}, "axis": {"values": [0, 0.2, 0.4], "format": ".1f", "title": "Elite Ratio", "minExtent": 30, "maxExtent": 30}},
    "color": {"field": "v", "type": "quantitative", "scale": {"type": "quantize", "domain": [-550.7, -206.7], "range": ["#7fc97f","#beaed4","#fdc086","#ffff99","#386cb0","#f0027f","#bf5b17","#666666"]}, "legend": null},
    "size": {"field": "v", "type": "quantitative", "scale": {"domain": [-550.7, -206.7], "range": [4, 56], "clamp": true}, "legend": null},
    "opacity": {"field": "v", "type": "quantitative", "scale": {"domain": [-550.7, -206.7], "range": [0.1, 1], "clamp": true}, "legend": null}}},
  {"width": 7, "height": 130, "view": {"stroke": "#262626", "strokeWidth": 1}, "data": {"name": "cb"}, "transform": [{"filter": "datum.p === 'GESMR_GA'"}], "mark": {"type": "rect"},
   "encoding": {
    "x": {"datum": 0, "type": "quantitative", "scale": {"domain": [0, 1]}, "axis": null}, "x2": {"datum": 1},
    "y": {"field": "lo", "type": "quantitative", "scale": {"domain": [-550.7, -206.7], "nice": false, "zero": false}, "axis": {"orient": "right", "values": [-300, -400, -500], "format": "d", "title": null, "domain": false, "ticks": true, "tickSize": 4.5, "labelPadding": 4}},
    "y2": {"field": "hi"},
    "color": {"field": "b", "type": "ordinal", "scale": {"domain": [0,1,2,3,4,5,6,7], "range": ["#7fc97f","#beaed4","#fdc086","#ffff99","#386cb0","#f0027f","#bf5b17","#666666"]}, "legend": null}}},
  {"width": 106.9, "height": 130, "data": {"values": []}, "mark": {"type": "point"}},
  {"width": 90, "height": 130, "title": "LGA", "data": {"name": "pts"}, "transform": [{"filter": "datum.p === 'LGA'"}], "mark": {"type": "circle"},
   "encoding": {
    "x": {"field": "s", "type": "quantitative", "scale": {"domain": [0.002, 0.164], "nice": false, "zero": false}, "axis": {"values": [0.05, 0.1, 0.15], "format": ".2f", "title": "σ₀ - Init Sigma"}},
    "y": {"field": "y", "type": "quantitative", "scale": {"domain": [-0.026, 0.531], "nice": false, "zero": false}, "axis": {"values": [0, 0.2, 0.4], "format": ".1f", "title": "Elite Ratio", "minExtent": 30, "maxExtent": 30}},
    "color": {"field": "v", "type": "quantitative", "scale": {"type": "quantize", "domain": [-580.7, -331.2], "range": ["#7fc97f","#beaed4","#fdc086","#ffff99","#386cb0","#f0027f","#bf5b17","#666666"]}, "legend": null},
    "size": {"field": "v", "type": "quantitative", "scale": {"domain": [-580.7, -331.2], "range": [4, 56], "clamp": true}, "legend": null},
    "opacity": {"field": "v", "type": "quantitative", "scale": {"domain": [-580.7, -331.2], "range": [0.1, 1], "clamp": true}, "legend": null}}},
  {"width": 7, "height": 130, "view": {"stroke": "#262626", "strokeWidth": 1}, "data": {"name": "cb"}, "transform": [{"filter": "datum.p === 'LGA'"}], "mark": {"type": "rect"},
   "encoding": {
    "x": {"datum": 0, "type": "quantitative", "scale": {"domain": [0, 1]}, "axis": null}, "x2": {"datum": 1},
    "y": {"field": "lo", "type": "quantitative", "scale": {"domain": [-580.7, -331.2], "nice": false, "zero": false}, "axis": {"orient": "right", "values": [-400, -500], "format": "d", "title": null, "domain": false, "ticks": true, "tickSize": 4.5, "labelPadding": 4}},
    "y2": {"field": "hi"},
    "color": {"field": "b", "type": "ordinal", "scale": {"domain": [0,1,2,3,4,5,6,7], "range": ["#7fc97f","#beaed4","#fdc086","#ffff99","#386cb0","#f0027f","#bf5b17","#666666"]}, "legend": null}}}
],
"config": {
 "font": "Liberation Sans",
 "background": "white",
 "view": {"stroke": null},
 "circle": {"strokeWidth": 0},
 "axis": {"labelFont": "Liberation Sans", "labelFontSize": 13.5, "labelColor": "#262626", "titleFont": "Liberation Sans", "titleFontSize": 14.5, "titleFontWeight": "normal", "titleColor": "#262626", "domainColor": "#262626", "domainWidth": 1.25, "ticks": false, "tickSize": 0, "tickColor": "#262626", "tickWidth": 1, "grid": false, "labelPadding": 9, "labelOverlap": false, "labelFlush": false, "labelBound": false},
 "axisX": {"labelPadding": 10, "titlePadding": 2},
 "axisY": {"titlePadding": 0},
 "title": {"font": "Liberation Sans", "fontSize": 14.5, "fontWeight": "normal", "color": "#262626", "baseline": "alphabetic", "offset": 2.5}
}
}
